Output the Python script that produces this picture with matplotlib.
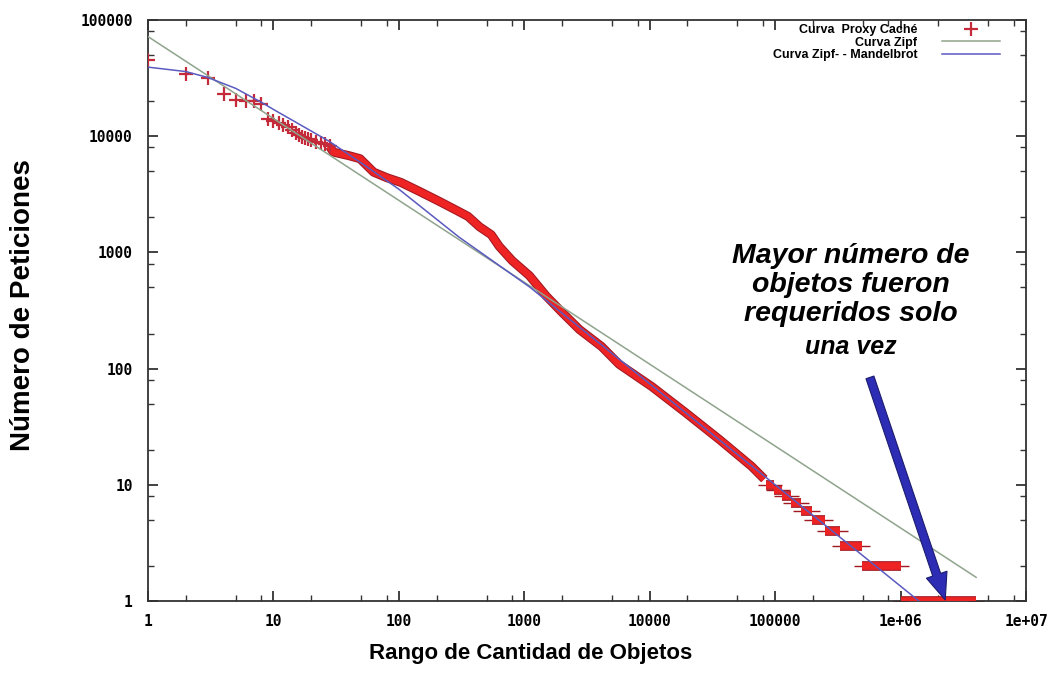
import matplotlib
matplotlib.use('Agg')
import matplotlib.pyplot as plt
import matplotlib.patheffects as pe
from matplotlib.ticker import LogLocator, FixedLocator, FixedFormatter, NullFormatter

# datos (rango, numero de peticiones)
cabeza_rango = [1, 2, 3, 4, 5, 6, 7, 8, 9, 10, 11, 12, 13, 14, 15, 16, 17, 18, 19, 20, 22, 24, 26, 28]
cabeza_pet = [45000, 34000, 31500, 23000, 20500, 20000, 20000, 19000, 14000, 13500, 13000, 12500,
              12000, 11200, 10600, 10200, 9900, 9700, 9500, 9200, 9000, 8800, 8600, 8200]

cuerpo_rango = [28, 30, 40, 49, 63, 80, 104, 150, 217, 300, 356, 440, 545, 630, 800, 1100, 1500,
                2000, 2750, 4130, 5700, 10400, 19200, 36000, 65000, 82000]
cuerpo_pet = [8200, 7300, 6800, 6400, 4900, 4400, 4000, 3300, 2700, 2250, 2040, 1660, 1420, 1130,
              850, 630, 420, 305, 217, 155, 109, 70, 42, 24.5, 14.4, 11.2]

# escalones de la cola (peticiones iguales)
escalon_pet = [1, 2, 3, 4, 5, 6, 7, 8, 9, 10]
escalon_ini = [1.0e6, 4.9e5, 3.3e5, 2.5e5, 1.95e5, 1.6e5, 1.35e5, 1.13e5, 9.8e4, 8.4e4]
escalon_fin = [4.0e6, 1.0e6, 4.9e5, 3.3e5, 2.5e5, 1.95e5, 1.6e5, 1.35e5, 1.13e5, 9.8e4]

zipf_rango = [1, 4.0e6]
zipf_pet = [72000, 1.6]

mandel_rango = [1, 2, 3, 5, 8, 10, 28, 50, 100, 300, 1100, 10000, 100000, 1.4e6]
mandel_pet = [39300, 36000, 32000, 25800, 19600, 17000, 9000, 5900, 3500, 1360, 505, 74, 10, 1]

x_ticks = [1, 10, 100, 1000, 10000, 100000, 1e6, 1e7]
x_labels = ['1', '10', '100', '1000', '10000', '100000', '1e+06', '1e+07']
y_ticks = [1, 10, 100, 1000, 10000, 100000]
y_labels = ['1', '10', '100', '1000', '10000', '100000']

rojo = '#ee2424'
borde = '#a01822'

fig = plt.figure(figsize=(10.56, 6.91), dpi=100)
ax = fig.add_axes([148 / 1056, 90 / 691, 878 / 1056, 581 / 691])
ax.set_xscale('log')
ax.set_yscale('log')
ax.set_xlim(1, 1e7)
ax.set_ylim(1, 100000)

contorno = [pe.Stroke(linewidth=6.5, foreground=borde), pe.Normal()]

ax.plot(cuerpo_rango, cuerpo_pet, color=rojo, lw=5, solid_capstyle='butt',
        path_effects=contorno, zorder=3)
ax.hlines(escalon_pet, escalon_ini, escalon_fin, color=rojo, lw=5.5,
          path_effects=[pe.Stroke(linewidth=7, foreground=borde), pe.Normal()], zorder=3)
ax.plot(escalon_ini + escalon_fin, escalon_pet + escalon_pet, ls='none', marker='_',
        ms=12, mew=1, color=borde, zorder=2)
ax.plot(cabeza_rango, cabeza_pet, ls='none', marker='+', ms=10, mew=1.6,
        color='#c42a3a', zorder=4, label='Curva  Proxy Caché')
ax.plot(zipf_rango, zipf_pet, color='#8fa48c', lw=1.1, zorder=5, label='Curva Zipf')
ax.plot(mandel_rango, mandel_pet, color='#5a5ac0', lw=1.1, zorder=5,
        label='Curva Zipf- - Mandelbrot')

# ejes estilo gnuplot
for s in ax.spines.values():
    s.set_linewidth(1.3)
    s.set_color('#333333')
ax.xaxis.set_major_locator(FixedLocator(x_ticks))
ax.xaxis.set_major_formatter(FixedFormatter(x_labels))
ax.yaxis.set_major_locator(FixedLocator(y_ticks))
ax.yaxis.set_major_formatter(FixedFormatter(y_labels))
ax.xaxis.set_minor_locator(LogLocator(base=10, subs=(2, 5, 8), numticks=20))
ax.yaxis.set_minor_locator(LogLocator(base=10, subs=(2, 5, 8), numticks=20))
ax.xaxis.set_minor_formatter(NullFormatter())
ax.yaxis.set_minor_formatter(NullFormatter())
ax.tick_params(which='both', direction='in', top=True, right=True, color='#333333')
ax.tick_params(which='major', length=7, width=1.3)
ax.tick_params(which='minor', length=4, width=1.0)
ax.tick_params(axis='x', pad=9)
ax.tick_params(axis='y', pad=11)
for lab in ax.get_xticklabels() + ax.get_yticklabels():
    lab.set_fontfamily('DejaVu Sans Mono')
    lab.set_fontweight('bold')
    lab.set_fontsize(10.5)

ax.set_xlabel('Rango de Cantidad de Objetos', fontfamily='Liberation Sans',
              fontweight='bold', fontsize=16)
ax.xaxis.set_label_coords(0.436, -0.072)
ax.set_ylabel('Número de Peticiones', fontfamily='Liberation Sans',
              fontweight='bold', fontsize=20)
ax.yaxis.set_label_coords(-0.127, 0.509)

leg = ax.legend(loc='upper right', bbox_to_anchor=(0.970, 0.993), frameon=False,
                markerfirst=False, borderaxespad=0, borderpad=0, handlelength=4.6,
                handletextpad=2.0, labelspacing=0.04,
                prop={'family': 'Liberation Sans', 'weight': 'bold', 'size': 9})
for t in leg.get_texts():
    t.set_ha('right')

# anotacion
ax.text(0.8007, 0.544, 'Mayor número de\nobjetos fueron\nrequeridos solo', transform=ax.transAxes,
        ha='center', va='center', fontfamily='Liberation Sans', fontweight='bold',
        fontstyle='italic', fontsize=20.5, linespacing=1.13, zorder=6)
ax.text(0.8007, 0.437, 'una vez', transform=ax.transAxes, ha='center', va='center',
        fontfamily='Liberation Sans', fontweight='bold', fontstyle='italic', fontsize=18,
        zorder=6)
ax.annotate('', xy=(2.27e6, 1.02), xytext=(5.7e5, 84),
            arrowprops=dict(arrowstyle='simple,head_length=1.6,head_width=1.3,tail_width=0.5',
                            mutation_scale=12, fc='#2c2cb4', ec='#1c1c70', lw=0.8,
                            shrinkA=0, shrinkB=0), zorder=7, annotation_clip=False)

fig.savefig('out.png', dpi=100)
